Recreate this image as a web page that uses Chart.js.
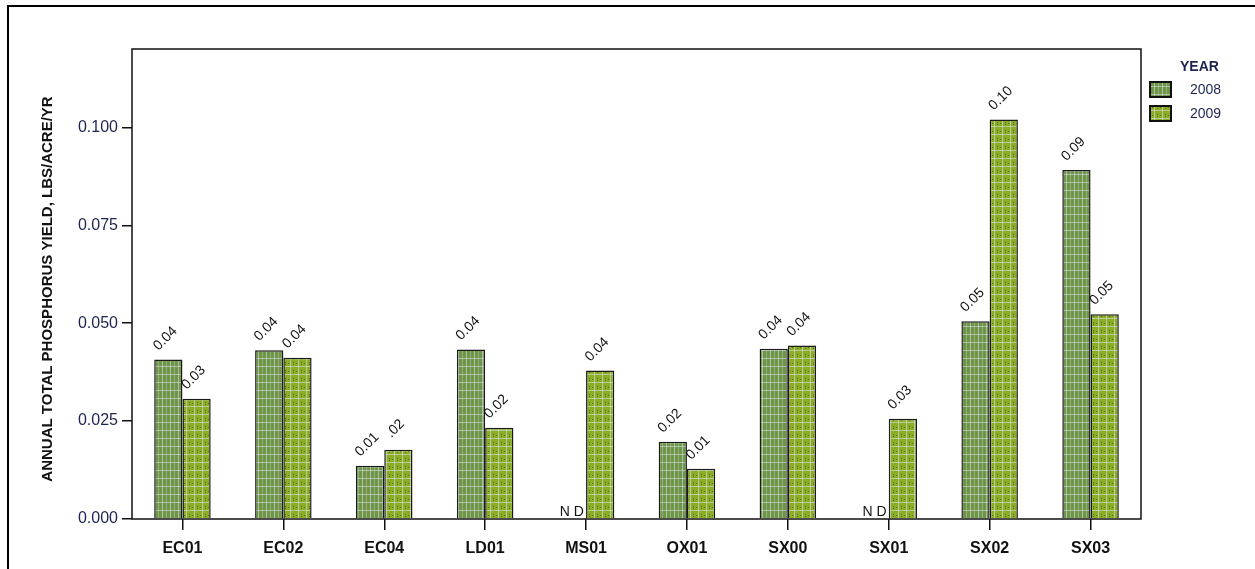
<!DOCTYPE html>
<html>
<head>
<meta charset="utf-8">
<script src="https://cdn.jsdelivr.net/npm/chart.js@4/dist/chart.umd.min.js"></script>
<style>
  html, body { margin: 0; padding: 0; background: #fff; }
  #wrap { width: 1255px; height: 569px; position: relative; }
</style>
</head>
<body>
<div id="wrap"><canvas id="myChart" width="1255" height="569"></canvas></div>
<script>
// data
var sites = ["EC01", "EC02", "EC04", "LD01", "MS01", "OX01", "SX00", "SX01", "SX02", "SX03"];
var y2008 = [0.0407, 0.0431, 0.0136, 0.0433, null, 0.0197, 0.0435, null, 0.0505, 0.0891];
var y2009 = [0.0307, 0.0412, 0.0177, 0.0233, 0.0379, 0.0128, 0.0443, 0.0256, 0.1020, 0.0523];
var lbl2008 = ["0.04", "0.04", "0.01", "0.04", "ND", "0.02", "0.04", "ND", "0.05", "0.09"];
var lbl2009 = ["0.03", "0.04", ".02", "0.02", "0.04", "0.01", "0.04", "0.03", "0.10", "0.05"];
var yTicks = [0, 0.025, 0.05, 0.075, 0.1];
var yTitle = "ANNUAL TOTAL PHOSPHORUS YIELD, LBS/ACRE/YR";

// hatch-ish fills like the original
function makePattern(base, dots) {
  var c = document.createElement("canvas");
  c.width = 8; c.height = 8;
  var g = c.getContext("2d");
  g.fillStyle = base;
  g.fillRect(0, 0, 8, 8);
  g.fillStyle = "rgba(220,225,240,0.55)";
  g.fillRect(2, 0, 1, 8);
  g.fillRect(0, 6, 8, 1);
  if (dots) {
    g.fillStyle = "rgba(40,50,10,0.55)";
    g.fillRect(5, 2, 1, 1);
    g.fillRect(0, 3, 1, 1);
    g.fillRect(5, 4, 1, 1);
  } else {
    g.fillStyle = "rgba(255,255,255,0.25)";
    g.fillRect(6, 0, 1, 8);
  }
  return g.createPattern(c, "repeat");
}
var fill2008 = makePattern("#6f9549", false);
var fill2009 = makePattern("#8cae27", true);

var extras = {
  id: "extras",
  afterDraw: function (chart) {
    var ctx = chart.ctx, a = chart.chartArea;
    ctx.save();
    // outer frame
    ctx.strokeStyle = "#000";
    ctx.lineWidth = 2;
    ctx.beginPath();
    ctx.moveTo(8, 569); ctx.lineTo(8, 6); ctx.lineTo(1255, 6);
    ctx.stroke();
    // plot frame
    ctx.lineWidth = 1.5;
    ctx.strokeStyle = "#111";
    ctx.strokeRect(a.left, a.top, a.right - a.left, a.bottom - a.top);

    // y axis title
    ctx.save();
    ctx.translate(48, 289);
    ctx.rotate(-Math.PI / 2);
    ctx.textAlign = "center";
    ctx.textBaseline = "middle";
    ctx.fillStyle = "#111";
    ctx.font = "bold 15px 'Liberation Sans', Arial, sans-serif";
    ctx.fillText(yTitle, 0, 0);
    ctx.restore();

    // value labels
    var labels = [lbl2008, lbl2009];
    ctx.fillStyle = "#111";
    ctx.font = "14px 'Liberation Sans', Arial, sans-serif";
    chart.data.datasets.forEach(function (ds, di) {
      chart.getDatasetMeta(di).data.forEach(function (bar, i) {
        var txt = labels[di][i];
        if (ds.data[i] === null) {
          ctx.save();
          ctx.textAlign = "center";
          ctx.textBaseline = "alphabetic";
          ctx.font = "14px 'Liberation Sans', Arial, sans-serif";
          ctx.fillText("N D", bar.x, a.bottom - 3);
          ctx.restore();
          return;
        }
        ctx.save();
        ctx.translate(bar.x - 3, bar.y - 21);
        ctx.rotate(-Math.PI / 4);
        ctx.textAlign = "center";
        ctx.textBaseline = "middle";
        ctx.fillText(txt, 0, 0);
        ctx.restore();
      });
    });

    // legend
    ctx.fillStyle = "#1c2450";
    ctx.font = "bold 14px 'Liberation Sans', Arial, sans-serif";
    ctx.textAlign = "left";
    ctx.textBaseline = "middle";
    ctx.fillText("YEAR", 1180, 67);
    var fills = [fill2008, fill2009];
    var names = ["2008", "2009"];
    for (var k = 0; k < 2; k++) {
      var yy = 82 + k * 24;
      ctx.fillStyle = fills[k];
      ctx.fillRect(1150, yy, 21, 15);
      ctx.strokeStyle = "#111";
      ctx.lineWidth = 2;
      ctx.strokeRect(1150, yy, 21, 15);
      ctx.fillStyle = "#1c2450";
      ctx.font = "14px 'Liberation Sans', Arial, sans-serif";
      ctx.fillText(names[k], 1190, yy + 8);
    }
    ctx.restore();
  }
};

new Chart("myChart", {
  type: "bar",
  data: {
    labels: sites,
    datasets: [{
      label: "2008",
      data: y2008,
      backgroundColor: fill2008,
      borderColor: "#1a1a1a",
      borderWidth: 1.5,
      categoryPercentage: 0.56,
      barPercentage: 1
    }, {
      label: "2009",
      data: y2009,
      backgroundColor: fill2009,
      borderColor: "#1a1a1a",
      borderWidth: 1.5,
      categoryPercentage: 0.56,
      barPercentage: 1
    }]
  },
  options: {
    responsive: false,
    animation: false,
    layout: { padding: { top: 49, right: 114, left: 0, bottom: 0 } },
    plugins: {
      legend: { display: false },
      tooltip: { enabled: false }
    },
    scales: {
      x: {
        grid: { display: true, offset: false, drawOnChartArea: false, tickLength: 11, color: "#111", lineWidth: 1.5 },
        border: { display: false },
        ticks: {
          color: "#111",
          padding: 9,
          font: { family: "'Liberation Sans', Arial, sans-serif", size: 16, weight: "bold" }
        },
        afterFit: function (s) { s.height = 50; }
      },
      y: {
        min: 0,
        max: 0.12,
        grid: { display: true, drawOnChartArea: false, tickLength: 10, color: "#111", lineWidth: 1.5 },
        border: { display: false },
        afterBuildTicks: function (s) {
          s.ticks = yTicks.map(function (v) { return { value: v }; });
        },
        ticks: {
          color: "#1c2450",
          padding: 4,
          font: { family: "'Liberation Sans', Arial, sans-serif", size: 16 },
          callback: function (v) { return Number(v).toFixed(3); }
        },
        afterFit: function (s) { s.width = 132; }
      }
    }
  },
  plugins: [extras]
});
</script>
</body>
</html>
